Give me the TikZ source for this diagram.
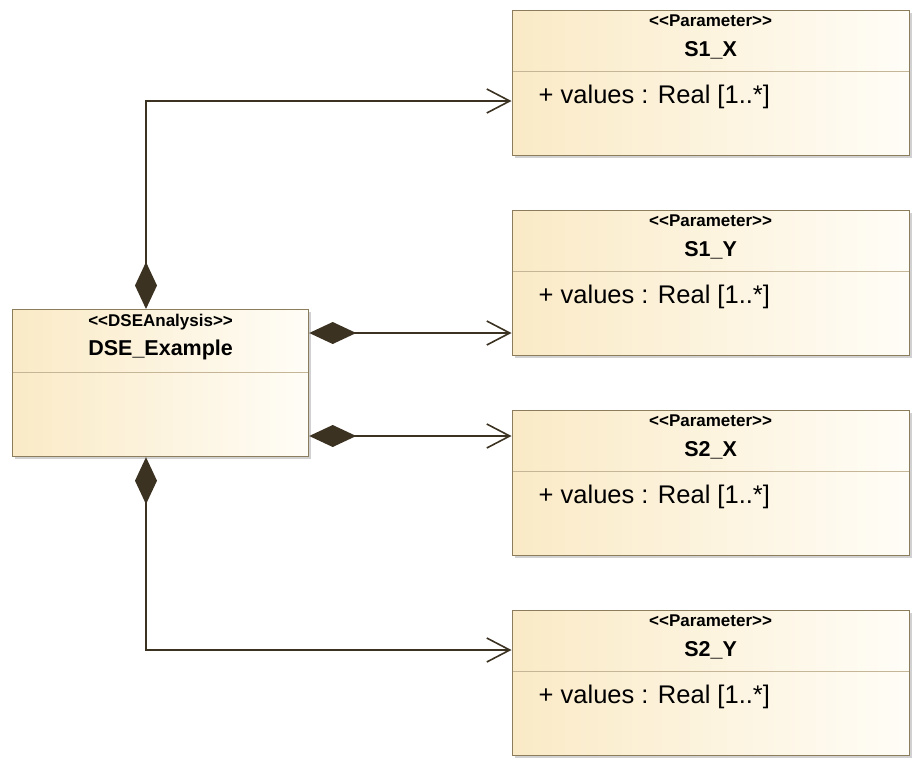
\documentclass[tikz,border=0pt]{standalone}
\usepackage{fontspec}
\setmainfont{Liberation Sans}
\usetikzlibrary{positioning,calc}
\usetikzlibrary{arrows.meta,shadows}
\definecolor{ClsBorder}{RGB}{140,126,92}
\definecolor{ClsLine}{RGB}{196,182,150}
\definecolor{ClsFillL}{RGB}{250,234,198}
\definecolor{ClsFillR}{RGB}{255,253,247}
\definecolor{LinkCol}{RGB}{59,50,34}
\tikzset{
	cls/.style={draw=ClsBorder,line width=1.2pt,left color=ClsFillL,right color=ClsFillR,
		drop shadow={shadow xshift=2.5pt,shadow yshift=-2.5pt,fill=black!30,opacity=0.6},
		inner sep=0pt,anchor=north west},
	parbox/.style={cls,minimum width=397pt,minimum height=145pt},
	stereo/.style={font=\fontsize{17}{18}\selectfont\bfseries,inner sep=0pt},
	cname/.style={font=\fontsize{21.5}{22}\selectfont\bfseries,inner sep=0pt},
	attr/.style={font=\fontsize{25.5}{26}\selectfont,inner sep=0pt,anchor=west},
	comp/.style={draw=LinkCol,line width=1.6pt,
		{Diamond[length=47pt,width=22pt]}-{Straight Barb[length=23pt,width=24pt,line width=1.6pt]}},
}
\newcommand{\stlt}{{<}{<}}
\newcommand{\stgt}{{>}{>}}

\begin{document}
\begin{tikzpicture}[x=1pt,y=-1pt]
					\useasboundingbox (0,0) rectangle (921,772);
					% analysis block
					\node[cls,minimum width=296pt,minimum height=147pt] (dse) at (12,309) {};
					\node[stereo] (dsest) at ($(dse.north)+(0,13)$) {\stlt DSEAnalysis\stgt};
					\node[cname] (dsename) at ($(dse.north)+(0,41)$) {DSE\_Example};
					\draw[ClsLine,line width=1pt] ($(dse.north west)+(1,63)$) -- ($(dse.north east)+(-1,63)$);
					% parameter blocks
					\foreach \p/\lbl/\t in {sax/S1\_X/10,say/S1\_Y/210,sbx/S2\_X/410,sby/S2\_Y/610}{
						\node[parbox] (\p) at (511.5,\t) {};
						\node[stereo] (\p st) at ($(\p.north)+(0,11)$) {\stlt Parameter\stgt};
						\node[cname] (\p name) at ($(\p.north)+(0,40)$) {\lbl};
						\draw[ClsLine,line width=1pt] ($(\p.north west)+(1,61)$) -- ($(\p.north east)+(-1,61)$);
						\node[attr] (\p val) at ($(\p.north west)+(27,87)$) {+ values : Real [1..*]};
					}
					% ends of the links
					\coordinate (dsetop) at ($(dse.north west)+(134,0)$);
					\coordinate (dsebot) at ($(dse.south west)+(134,0)$);
					\coordinate (dser1) at ($(dse.north east)+(0,24)$);
					\coordinate (dser2) at ($(dse.north east)+(0,127)$);
					\coordinate (saxin) at ($(sax.north west)+(0,91)$);
					\coordinate (sayin) at ($(say.north west)+(0,123)$);
					\coordinate (sbxin) at ($(sbx.north west)+(0,26)$);
					\coordinate (sbyin) at ($(sby.north west)+(0,40)$);
					\draw[comp] (dsetop) |- (saxin);
					\draw[comp] (dser1) -- (dser1 -| sayin);
					\draw[comp] (dser2) -- (dser2 -| sbxin);
					\draw[comp] (dsebot) |- (sbyin);
				\end{tikzpicture}
\end{document}
